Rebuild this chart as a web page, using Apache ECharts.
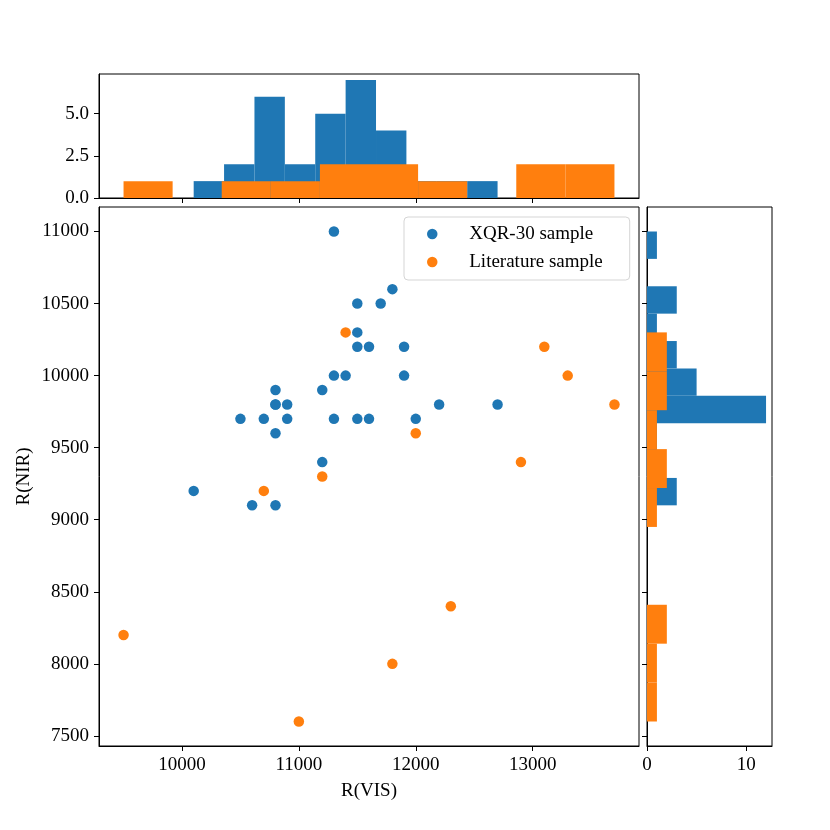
<!DOCTYPE html>
<html>
<head>
<meta charset="utf-8">
<script src="https://cdn.jsdelivr.net/npm/echarts@6/dist/echarts.min.js"></script>
<style>
  html, body { margin: 0; padding: 0; background: #fff; }
  #main { width: 830px; height: 830px; }
</style>
</head>
<body>
<div id="main"></div>
<script>
// XQR-30 sample
const xqrVis = [11300, 11800, 11500, 11700, 11500, 11500, 11600, 11900, 11300, 11400,
  11900, 10800, 11200, 10800, 10800, 10900, 12200, 12700, 10500, 10700,
  10900, 11300, 11500, 11600, 12000, 10800, 11200, 10100, 10600, 10800];
const xqrNir = [11000, 10600, 10500, 10500, 10300, 10200, 10200, 10200, 10000, 10000,
  10000, 9900, 9900, 9800, 9800, 9800, 9800, 9800, 9700, 9700,
  9700, 9700, 9700, 9700, 9700, 9600, 9400, 9200, 9100, 9100];

// Literature sample
const litVis = [11400, 13100, 13300, 13700, 12000, 12900, 11200, 10700, 12300, 9500, 11800, 11000];
const litNir = [10300, 10200, 10000, 9800, 9600, 9400, 9300, 9200, 8400, 8200, 8000, 7600];

const visTicks = [10000, 11000, 12000, 13000];
const nirTicks = [7500, 8000, 8500, 9000, 9500, 10000, 10500, 11000];
const topCountTicks = [0, 2.5, 5];
const rightCountTicks = [0, 10];
const nBins = 10;

const BLUE = "#1f77b4";
const ORANGE = "#ff7f0e";
const FONT = "Liberation Serif";

// same binning as matplotlib's hist: equal bins from min to max, last one closed
const histogram = (values) => {
  const lo = Math.min(...values);
  const hi = Math.max(...values);
  const w = (hi - lo) / nBins;
  const counts = new Array(nBins).fill(0);
  values.forEach((v) => {
    counts[Math.min(Math.floor((v - lo) / w), nBins - 1)]++;
  });
  return counts.map((c, i) => [lo + i * w, lo + (i + 1) * w, c]);
};

const vBars = (params, api) => {
  const p0 = api.coord([api.value(0), 0]);
  const p1 = api.coord([api.value(1), api.value(2)]);
  return {
    type: "rect",
    shape: { x: p0[0], y: p1[1], width: p1[0] - p0[0], height: p0[1] - p1[1] },
    style: { fill: api.visual("color") },
  };
};

const hBars = (params, api) => {
  const p0 = api.coord([0, api.value(0)]);
  const p1 = api.coord([api.value(2), api.value(1)]);
  return {
    type: "rect",
    shape: { x: p0[0], y: p1[1], width: p1[0] - p0[0], height: p0[1] - p1[1] },
    style: { fill: api.visual("color") },
  };
};

const label = { fontFamily: FONT, fontSize: 19, color: "#000" };
const plain = (v) => String(v);
const tick = (values) => ({
  show: true,
  inside: false,
  length: 5,
  customValues: values,
  lineStyle: { color: "#000", width: 1 },
});
const line = { show: true, onZero: false, lineStyle: { color: "#000", width: 1 } };

const visRange = { min: 9290, max: 13910 };
const nirRange = { min: 7430, max: 11170 };

const option = {
  animation: false,
  backgroundColor: "#fff",
  grid: [
    { left: 99, top: 207, width: 540, height: 539, show: true, borderColor: "#000", borderWidth: 1, containLabel: false },
    { left: 99, top: 74, width: 540, height: 124, show: true, borderColor: "#000", borderWidth: 1, containLabel: false },
    { left: 647, top: 207, width: 125, height: 539, show: true, borderColor: "#000", borderWidth: 1, containLabel: false },
  ],
  legend: {
    data: ["XQR-30 sample", "Literature sample"],
    orient: "vertical",
    left: 404,
    top: 217,
    icon: "circle",
    itemWidth: 24,
    itemHeight: 10.5,
    itemGap: 8,
    padding: [7, 27, 8, 23],
    borderColor: "#d5d5d5",
    borderWidth: 1,
    borderRadius: 4,
    backgroundColor: "rgba(255,255,255,0.8)",
    textStyle: { ...label, lineHeight: 20, padding: [0, 0, 0, 20] },
  },
  xAxis: [
    {
      gridIndex: 0, type: "value", ...visRange,
      name: "R(VIS)", nameLocation: "middle", nameGap: 36, nameTextStyle: label,
      axisLine: line, axisTick: tick(visTicks),
      axisLabel: { ...label, margin: 10, customValues: visTicks, formatter: plain },
      splitLine: { show: false },
    },
    {
      gridIndex: 1, type: "value", ...visRange,
      axisLine: line, axisTick: tick(visTicks),
      axisLabel: { show: false, customValues: visTicks },
      splitLine: { show: false },
    },
    {
      gridIndex: 2, type: "value", min: 0, max: 12.6,
      axisLine: line, axisTick: tick(rightCountTicks),
      axisLabel: { ...label, margin: 10, customValues: rightCountTicks, formatter: plain },
      splitLine: { show: false },
    },
  ],
  yAxis: [
    {
      gridIndex: 0, type: "value", ...nirRange,
      name: "R(NIR)", nameLocation: "middle", nameGap: 65, nameRotate: 90, nameMoveOverlap: false,
      nameTextStyle: label,
      axisLine: line, axisTick: tick(nirTicks),
      axisLabel: { ...label, margin: 10, customValues: nirTicks, formatter: plain },
      splitLine: { show: false },
    },
    {
      gridIndex: 1, type: "value", min: 0, max: 7.35,
      axisLine: line, axisTick: tick(topCountTicks),
      axisLabel: { ...label, margin: 10, customValues: topCountTicks, formatter: (v) => v.toFixed(1) },
      splitLine: { show: false },
    },
    {
      gridIndex: 2, type: "value", ...nirRange,
      axisLine: line, axisTick: tick(nirTicks),
      axisLabel: { show: false, customValues: nirTicks },
      splitLine: { show: false },
    },
  ],
  series: [
    {
      name: "XQR-30 sample", type: "scatter", xAxisIndex: 0, yAxisIndex: 0,
      symbolSize: 10.5, itemStyle: { color: BLUE, opacity: 1 },
      data: xqrVis.map((v, i) => [v, xqrNir[i]]),
    },
    {
      name: "Literature sample", type: "scatter", xAxisIndex: 0, yAxisIndex: 0,
      symbolSize: 10.5, itemStyle: { color: ORANGE, opacity: 1 },
      data: litVis.map((v, i) => [v, litNir[i]]),
    },
    {
      type: "custom", xAxisIndex: 1, yAxisIndex: 1, renderItem: vBars,
      itemStyle: { color: BLUE }, encode: { x: [0, 1], y: 2 },
      data: histogram(xqrVis),
    },
    {
      type: "custom", xAxisIndex: 1, yAxisIndex: 1, renderItem: vBars,
      itemStyle: { color: ORANGE }, encode: { x: [0, 1], y: 2 },
      data: histogram(litVis),
    },
    {
      type: "custom", xAxisIndex: 2, yAxisIndex: 2, renderItem: hBars,
      itemStyle: { color: BLUE }, encode: { x: 2, y: [0, 1] },
      data: histogram(xqrNir),
    },
    {
      type: "custom", xAxisIndex: 2, yAxisIndex: 2, renderItem: hBars,
      itemStyle: { color: ORANGE }, encode: { x: 2, y: [0, 1] },
      data: histogram(litNir),
    },
  ],
};

const chart = echarts.init(document.getElementById("main"), null, { renderer: "canvas" });
chart.setOption(option);
</script>
</body>
</html>
